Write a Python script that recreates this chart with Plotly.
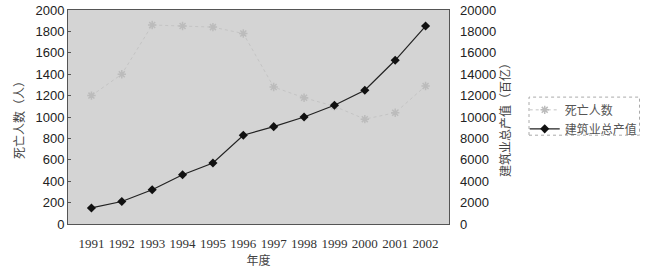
import plotly.graph_objects as go

years = ["1991", "1992", "1993", "1994", "1995", "1996", "1997", "1998", "1999", "2000", "2001", "2002"]
deaths = [1200, 1400, 1860, 1850, 1840, 1780, 1280, 1180, 1100, 980, 1040, 1290]
output = [1500, 2100, 3200, 4600, 5700, 8300, 9100, 10000, 11100, 12500, 15300, 18500]
left_ticks = [0, 200, 400, 600, 800, 1000, 1200, 1400, 1600, 1800, 2000]
right_ticks = [0, 2000, 4000, 6000, 8000, 10000, 12000, 14000, 16000, 18000, 20000]

cjk = "Noto Sans CJK SC"
sans = "Liberation Sans, Arial"
serif = "Liberation Serif, Times New Roman"

fig = go.Figure()
fig.add_trace(go.Scatter(
    x=years, y=deaths, name="死亡人数", mode="lines+markers",
    line=dict(color="#c4c4c4", width=1, dash="dot"),
    marker=dict(symbol="asterisk-open", size=7, color="#bcbcbc", line=dict(color="#bcbcbc", width=1.5)),
    yaxis="y"))
fig.add_trace(go.Scatter(
    x=years, y=output, name="建筑业总产值", mode="lines+markers",
    line=dict(color="#222222", width=1.2),
    marker=dict(symbol="diamond", size=7, color="#111111"),
    yaxis="y2"))

fig.update_layout(
    width=647, height=274,
    margin=dict(l=68, r=198, t=10, b=50, autoexpand=False),
    paper_bgcolor="white", plot_bgcolor="#d4d4d4",
    showlegend=True,
    legend=dict(xref="container", yref="container", x=0.811, y=0.652,
                xanchor="left", yanchor="top",
                borderwidth=0, bgcolor="rgba(0,0,0,0)",
                font=dict(family=cjk, size=12, color="#555555"),
                tracegroupgap=0, itemwidth=30),
    shapes=[dict(type="rect", xref="paper", yref="paper",
                 x0=1.21, x1=1.50, y0=0.415, y1=0.593,
                 line=dict(color="#aaaaaa", width=1, dash="dot"))],
    xaxis=dict(type="category", tickvals=years, ticktext=years,
               showgrid=False, zeroline=False,
               showline=True, linecolor="#555555", linewidth=1, mirror=True,
               ticks="", tickfont=dict(family=serif, size=13, color="#333333"),
               ticklabelstandoff=7,
               title=dict(text="年度", font=dict(family=cjk, size=12, color="#444444"), standoff=4)),
    yaxis=dict(range=[0, 2000], tickvals=left_ticks, showgrid=False, zeroline=False,
               showline=True, linecolor="#555555", linewidth=1, mirror=True,
               ticks="inside", ticklen=3, tickcolor="#555555",
               tickfont=dict(family=sans, size=13, color="#222222"),
               title=dict(text="死亡人数（人）", font=dict(family=cjk, size=12, color="#444444"), standoff=8)),
    yaxis2=dict(range=[0, 20000], tickvals=right_ticks, ticktext=[str(v) for v in right_ticks],
                overlaying="y", side="right",
                showgrid=False, zeroline=False, showline=False,
                ticks="", tickfont=dict(family=sans, size=13, color="#222222"),
                ticklabelstandoff=10,
                title=dict(text="建筑业总产值（百亿）", font=dict(family=cjk, size=12, color="#444444"), standoff=6)),
)

fig.write_html("out.html")
